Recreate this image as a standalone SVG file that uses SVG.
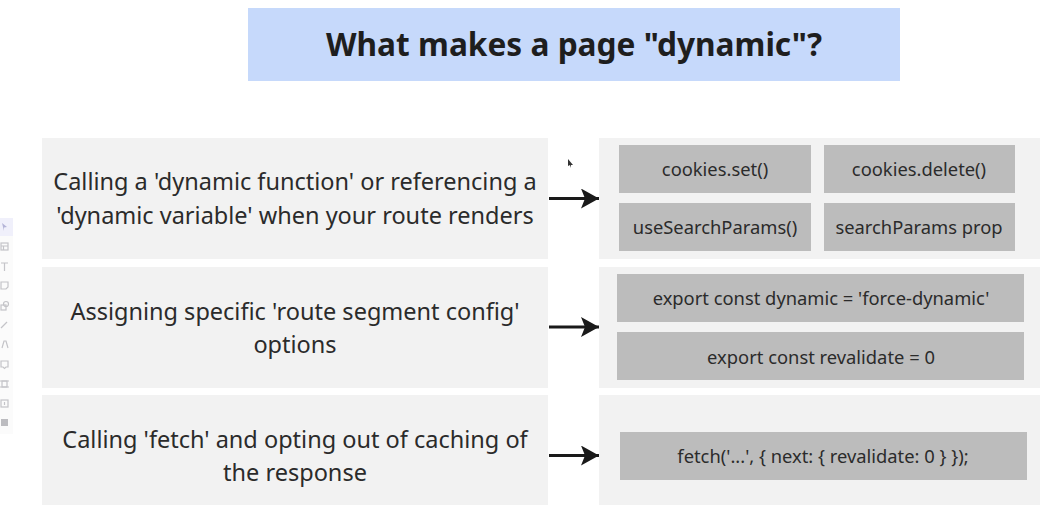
<svg xmlns="http://www.w3.org/2000/svg" width="1056" height="505" viewBox="0 0 1056 505">
<style>
text{font-family:"Noto Sans","Open Sans","Liberation Sans",sans-serif;fill:#2b2b2b;text-anchor:middle}
.p{fill:#f2f2f2}.c{fill:#bcbcbc}.l{font-size:23.5px}.s{font-size:18.35px}
.ic{fill:none;stroke:#c4c4c8;stroke-width:1.2}
.cn{stroke:#1a1a1a;stroke-width:3;fill:none;marker-end:url(#a)}
</style>
<defs><marker id="a" markerUnits="userSpaceOnUse" markerWidth="20" markerHeight="20" refX="18" refY="10" orient="auto"><path d="M0 0L18 10L0 20L4 10Z" fill="#1a1a1a"/></marker></defs>
<rect width="1056" height="505" fill="#fff"/>
<g id="toolbar">
<rect x="0" y="218" width="13" height="216" fill="#fbfbfb"/>
<rect x="0" y="218" width="13" height="18" fill="#f0f0fb"/>
<path d="M2 223l5 4-3 .5 0 3.5z" fill="#b4b4d8"/>
<rect class="ic" x="1" y="243" width="7" height="7"/><path class="ic" d="M1 246h7M3.500 246v4"/>
<path class="ic" d="M1 263h7M4.500 263v8"/>
<path class="ic" d="M1 282h7v5l-2 2h-5z"/>
<rect class="ic" x="1" y="305" width="5" height="5"/><circle class="ic" cx="6" cy="304" r="2.500"/>
<path class="ic" d="M1 328l6-6"/>
<path class="ic" d="M2 348l2-7 2 0 2 7"/>
<path class="ic" d="M1 361h7v6h-2l-1.500 1.500-1.500-1.500h-2z"/>
<rect class="ic" x="2" y="381" width="5" height="6"/><path class="ic" d="M0 381h9M0 387h9"/>
<rect class="ic" x="1" y="400" width="7" height="7"/><path class="ic" d="M4.500 402v3"/>
<rect x="1" y="419" width="7" height="7" fill="#bcbcc0"/>
</g>
<g id="title"><rect x="248" y="8" width="652" height="73" fill="#c6d9fb"/><text style="fill:#1e1e1e" x="574" y="56" font-size="31.65" font-weight="700">What makes a page "dynamic"?</text></g>
<g id="row1-left"><rect class="p" x="42" y="138" width="506" height="121"/><text class="l" x="295" y="190">Calling a 'dynamic function' or referencing a</text><text class="l" x="295" y="224">'dynamic variable' when your route renders</text></g>
<g id="row2-left"><rect class="p" x="42" y="267" width="506" height="121"/><text class="l" x="295" y="320">Assigning specific 'route segment config'</text><text class="l" x="295" y="353">options</text></g>
<g id="row3-left"><rect class="p" x="42" y="395" width="506" height="110"/><text class="l" x="295" y="448">Calling 'fetch' and opting out of caching of</text><text class="l" x="295" y="481">the response</text></g>
<g id="row1-right"><rect class="p" x="599" y="138" width="441" height="121"/></g>
<g id="row2-right"><rect class="p" x="599" y="267" width="441" height="121"/></g>
<g id="row3-right"><rect class="p" x="599" y="395" width="441" height="110"/></g>
<g id="cookies-set"><rect class="c" x="619" y="145" width="192" height="48"/><text class="s" x="715" y="176">cookies.set()</text></g>
<g id="cookies-delete"><rect class="c" x="824" y="145" width="191" height="48"/><text class="s" x="919" y="176">cookies.delete()</text></g>
<g id="use-search-params"><rect class="c" x="619" y="203" width="192" height="48"/><text class="s" x="715" y="234">useSearchParams()</text></g>
<g id="search-params-prop"><rect class="c" x="824" y="203" width="191" height="48"/><text class="s" x="919" y="234">searchParams prop</text></g>
<g id="force-dynamic"><rect class="c" x="617" y="274" width="407" height="48"/><text class="s" x="821" y="305">export const dynamic = 'force-dynamic'</text></g>
<g id="revalidate"><rect class="c" x="617" y="332" width="407" height="48"/><text class="s" x="821" y="364">export const revalidate = 0</text></g>
<g id="fetch"><rect class="c" x="620" y="432" width="407" height="48"/><text class="s" x="823" y="463">fetch('...', { next: { revalidate: 0 } });</text></g>
<g id="cursor"><path d="M568 159l5 6-2 0 0 3-1-3-2 1z" fill="#333"/></g>
<g id="connectors">
<path class="cn" d="M549 198.500H599"/>
<path class="cn" d="M549 327H599"/>
<path class="cn" d="M549 455.500H599"/>
</g>
</svg>
